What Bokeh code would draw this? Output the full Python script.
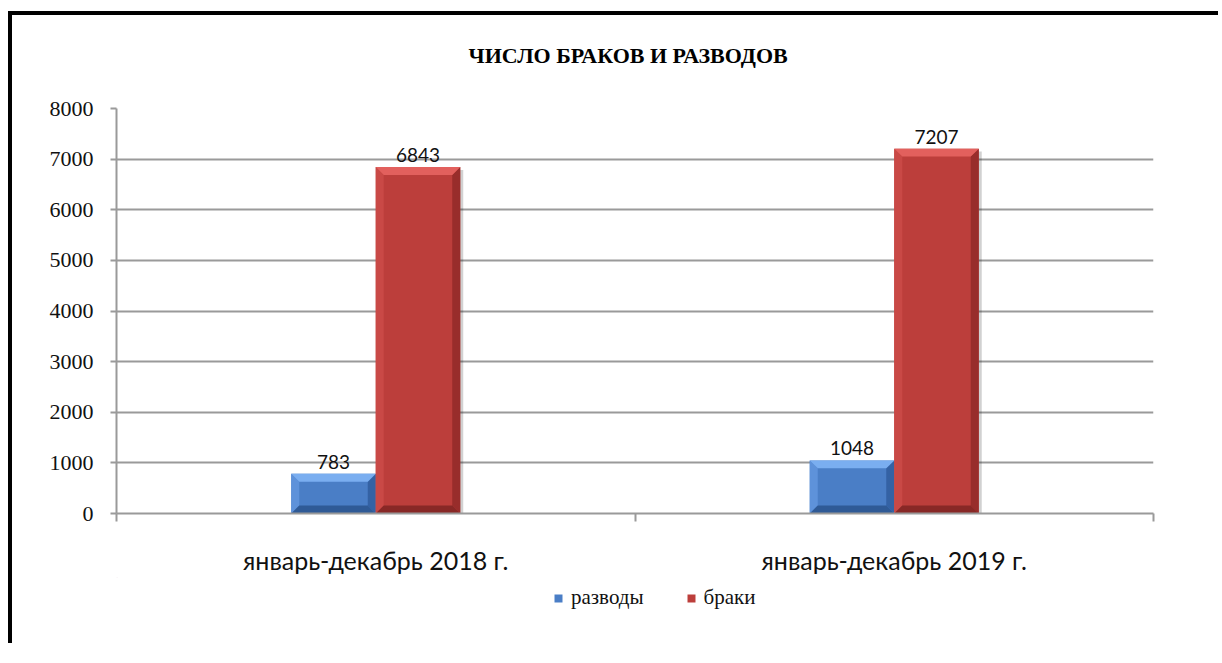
from bokeh.plotting import figure
from bokeh.layouts import column
from bokeh.models import Range1d, FixedTicker, Legend, LegendItem, Label
from bokeh.core.properties import value
from bokeh.embed import file_html
from bokeh.resources import INLINE

# ---- data ----
categories = ["январь-декабрь 2018 г.", "январь-декабрь 2019 г."]
divorces = [783, 1048]
marriages = [6843, 7207]
series_names = ["разводы", "браки"]
y_ticks = [0, 1000, 2000, 3000, 4000, 5000, 6000, 7000, 8000]
title_text = "ЧИСЛО БРАКОВ И РАЗВОДОВ"

W = 1210
YMAX = 8000
frame_css = {"margin-left": "8px", "border-left": "4px solid black"}


def strip(height, top=False, y_range=None):
    f = figure(width=W, height=height, output_backend="svg", toolbar_location=None,
               x_range=Range1d(0, W), y_range=y_range or Range1d(0, height),
               x_axis_location=None, y_axis_location=None,
               min_border_left=0, min_border_right=0, min_border_top=0,
               min_border_bottom=0)
    f.grid.visible = False
    f.outline_line_color = None
    f.background_fill_color = "white"
    f.border_fill_color = "white"
    css = dict(frame_css)
    if top:
        css.update({"margin-top": "11px", "border-top": "4px solid black"})
    f.styles = css
    return f


# ---- title strip ----
H0 = 82
p0 = strip(H0, top=True)
p0.add_layout(Label(x=W / 2 - 8, y=H0 - 40, text=title_text, text_align="center",
                    text_baseline="middle", text_font="Liberation Serif",
                    text_font_style="bold", text_font_size="22px", text_color="black"))

# ---- main chart ----
ML, MR, MT, MB = 104, 69, 15, 60
H1 = 484
frame_w = W - ML - MR
frame_h = H1 - MT - MB

p = figure(width=W, height=H1, output_backend="svg", toolbar_location=None,
           x_range=Range1d(0, len(categories)), y_range=Range1d(0, YMAX),
           min_border_left=ML, min_border_right=MR, min_border_top=MT,
           min_border_bottom=MB)
p.styles = dict(frame_css)
p.outline_line_color = None
p.background_fill_color = "white"
p.border_fill_color = "white"

px_x = len(categories) / frame_w
px_y = YMAX / frame_h

bar_w = 84.5 * px_x
centers = [i + 0.5 for i in range(len(categories))]
colors = {"разводы": ("#4A7EC6", "#7AAEF0", "#5E92DA", "#3462A4", "#2F5A96"),
          "браки": ("#BC3E3B", "#E2605D", "#C94946", "#982D2B", "#882826")}

series_vals = [divorces, marriages]
for si, (name, vals) in enumerate(zip(series_names, series_vals)):
    xs = [c + (si - 0.5) * bar_w for c in centers]
    base, top_c, left_c, right_c, bot_c = colors[name]
    # shadow
    p.vbar(x=[x + 3 * px_x for x in xs], top=[v - 3 * px_y for v in vals],
           width=bar_w, fill_color="black", fill_alpha=0.18, line_color=None)
    p.vbar(x=xs, top=vals, width=bar_w, fill_color=base, line_color=None)
    # bevels
    bx, by = 8 * px_x, 8 * px_y
    tops_x, tops_y, l_x, l_y, r_x, r_y, b_x, b_y = [], [], [], [], [], [], [], []
    for x, v in zip(xs, vals):
        x0, x1 = x - bar_w / 2, x + bar_w / 2
        bb = min(by, v / 3)
        tops_x.append([x0, x1, x1 - bx, x0 + bx])
        tops_y.append([v, v, v - bb, v - bb])
        l_x.append([x0, x0, x0 + bx, x0 + bx])
        l_y.append([0, v, v - bb, bb])
        r_x.append([x1, x1, x1 - bx, x1 - bx])
        r_y.append([0, v, v - bb, bb])
        b_x.append([x0, x1, x1 - bx, x0 + bx])
        b_y.append([0, 0, bb, bb])
    p.patches(l_x, l_y, fill_color=left_c, line_color=None)
    p.patches(r_x, r_y, fill_color=right_c, line_color=None)
    p.patches(b_x, b_y, fill_color=bot_c, line_color=None)
    p.patches(tops_x, tops_y, fill_color=top_c, line_color=None)
    # value labels
    p.text(x=xs, y=vals, text=[str(v) for v in vals], text_align="center",
           text_baseline="alphabetic", y_offset=-12, text_font=value("Lato"),
           text_font_size="19px", text_color="#111111")

grid_c = "#9A9A9A"
p.yaxis.ticker = FixedTicker(ticks=y_ticks)
p.yaxis.axis_line_color = grid_c
p.yaxis.axis_line_width = 2
p.yaxis.major_tick_line_color = grid_c
p.yaxis.major_tick_line_width = 2
p.yaxis.major_tick_out = 6
p.yaxis.major_tick_in = 0
p.yaxis.minor_tick_line_color = None
p.yaxis.major_label_standoff = 17
p.yaxis.major_label_text_font = "Liberation Serif"
p.yaxis.major_label_text_font_size = "22px"
p.yaxis.major_label_text_color = "#111111"

p.xaxis.ticker = FixedTicker(ticks=centers, minor_ticks=list(range(len(categories) + 1)))
p.xaxis.major_label_overrides = {c: cat for c, cat in zip(centers, categories)}
p.xaxis.axis_line_color = grid_c
p.xaxis.axis_line_width = 2
p.xaxis.major_tick_line_color = None
p.xaxis.major_tick_out = 0
p.xaxis.major_tick_in = 0
p.xaxis.minor_tick_line_color = grid_c
p.xaxis.minor_tick_line_width = 2
p.xaxis.minor_tick_out = 8
p.xaxis.minor_tick_in = 0
p.xaxis.major_label_standoff = 23
p.xaxis.major_label_text_font = "Lato"
p.xaxis.major_label_text_font_size = "25px"
p.xaxis.major_label_text_color = "#111111"

p.xgrid.visible = False
p.ygrid.ticker = FixedTicker(ticks=y_ticks)
p.ygrid.grid_line_color = grid_c
p.ygrid.grid_line_width = 2

# ---- legend strip (proxy bars lie outside its visible range) ----
H2 = 66
p2 = strip(H2, y_range=Range1d(-H2, -1))
proxies = []
for name, vals in zip(series_names, series_vals):
    proxies.append(p2.vbar(x=centers, top=vals, bottom=1, width=0.1,
                           fill_color=colors[name][0], line_color=None))
legend = Legend(items=[LegendItem(label=n, renderers=[r]) for n, r in zip(series_names, proxies)],
                orientation="horizontal", location=(437, 33),
                glyph_width=10, glyph_height=10, label_standoff=8, spacing=42,
                label_text_font="Liberation Serif", label_text_font_size="21px",
                label_text_color="#111111",
                border_line_color=None, background_fill_alpha=0, margin=0, padding=5)
p2.add_layout(legend, "center")

layout = column(p0, p, p2, spacing=0)
open("out.html", "w").write(file_html(layout, INLINE))
